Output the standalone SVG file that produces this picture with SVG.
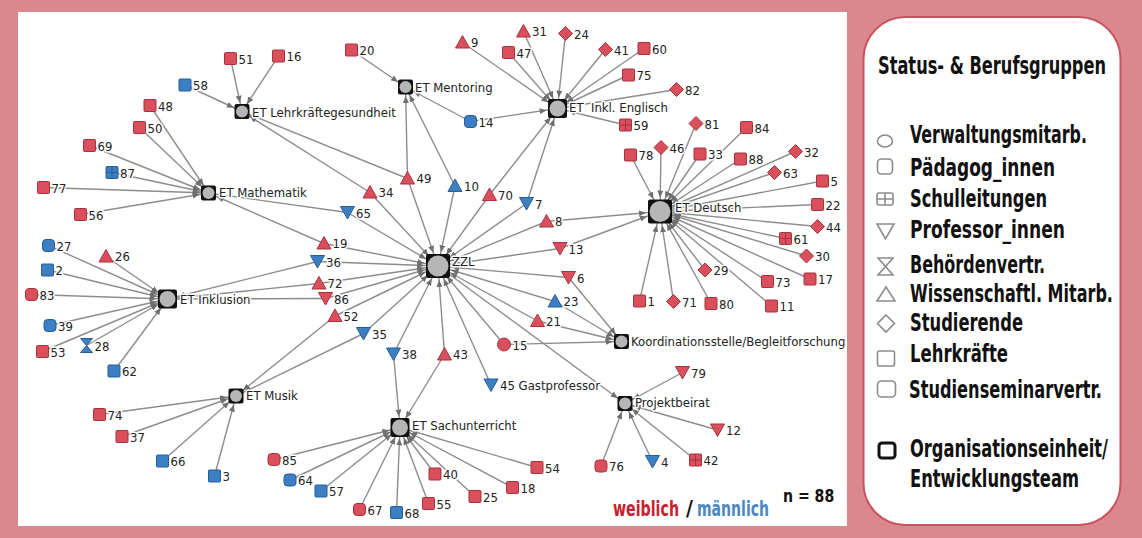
<svg xmlns="http://www.w3.org/2000/svg" xmlns:xlink="http://www.w3.org/1999/xlink" width="1142" height="538" viewBox="0 0 1142 538">
<style>
.lb{font-family:"DejaVu Sans Condensed","DejaVu Sans",sans-serif;font-size:13px;fill:#222;paint-order:stroke;stroke:#fff;stroke-width:3px;stroke-linejoin:round}
.r{fill:#d94f5c;stroke:#a8313f;stroke-width:1}
.b{fill:#3d7fc3;stroke:#285e96;stroke-width:1}
.hub{fill:#111}
.hubc{fill:#b6b6b6}
.cn line{stroke:#8d8d8d;stroke-width:1.4}
.lg{font-family:"Liberation Sans Narrow","DejaVu Sans Condensed",sans-serif;font-weight:bold;font-size:24px;fill:#111}
.li{fill:none;stroke:#8c8c8c;stroke-width:1.6}
</style>
<defs>
<marker id="m24" viewBox="0 0 21 6" refX="21" refY="3" markerWidth="21" markerHeight="6" markerUnits="userSpaceOnUse" orient="auto"><path d="M0,0 L7,3 L0,6 Z" fill="#6f6f6f"/></marker>
<marker id="m19" viewBox="0 0 18 6" refX="18" refY="3" markerWidth="18" markerHeight="6" markerUnits="userSpaceOnUse" orient="auto"><path d="M0,0 L7,3 L0,6 Z" fill="#6f6f6f"/></marker>
<marker id="m15" viewBox="0 0 16 6" refX="16" refY="3" markerWidth="16" markerHeight="6" markerUnits="userSpaceOnUse" orient="auto"><path d="M0,0 L7,3 L0,6 Z" fill="#6f6f6f"/></marker>
<rect id="sq" x="-6" y="-6" width="12" height="12" rx="1"/>
<rect id="rsq" x="-6" y="-6" width="12" height="12" rx="3.5"/>
<path id="up" d="M0,-7 L7,5.5 L-7,5.5 Z"/>
<path id="dn" d="M-7,-6 L7,-6 L0,6.5 Z"/>
<path id="dia" d="M0,-7 L7,0 L0,7 L-7,0 Z"/>
<circle id="ci" r="6.5"/>
<g id="grid"><rect x="-6" y="-6" width="12" height="12" rx="1"/><path d="M-6,0 H6 M0,-6 V6" fill="none"/></g>
<path id="hg" d="M-6,-7 L6,-7 L-6,7 L6,7 Z"/>
</defs>
<rect x="0" y="0" width="1142" height="538" fill="#da888e"/>
<rect x="18" y="12" width="829" height="514" fill="#fff"/>
<rect x="863.5" y="17" width="257" height="508" rx="42" fill="#fff" stroke="#c9525e" stroke-width="2"/>

<g id="connectors" class="cn">
<line x1="230.5" y1="58.5" x2="242" y2="111.5" marker-end="url(#m15)"/>
<line x1="278.5" y1="56" x2="242" y2="111.5" marker-end="url(#m15)"/>
<line x1="185" y1="85" x2="242" y2="111.5" marker-end="url(#m15)"/>
<line x1="370" y1="192.5" x2="242" y2="111.5" marker-end="url(#m15)"/>
<line x1="407.5" y1="178.5" x2="242" y2="111.5" marker-end="url(#m15)"/>
<line x1="150" y1="105.5" x2="208.5" y2="193" marker-end="url(#m15)"/>
<line x1="139.5" y1="127.5" x2="208.5" y2="193" marker-end="url(#m15)"/>
<line x1="89.5" y1="145.5" x2="208.5" y2="193" marker-end="url(#m15)"/>
<line x1="112" y1="172.5" x2="208.5" y2="193" marker-end="url(#m15)"/>
<line x1="43.5" y1="187.5" x2="208.5" y2="193" marker-end="url(#m15)"/>
<line x1="80.5" y1="214.5" x2="208.5" y2="193" marker-end="url(#m15)"/>
<line x1="347.5" y1="212.5" x2="208.5" y2="193" marker-end="url(#m15)"/>
<line x1="324" y1="243.5" x2="208.5" y2="193" marker-end="url(#m15)"/>
<line x1="351.5" y1="50" x2="405.5" y2="87" marker-end="url(#m15)"/>
<line x1="407.5" y1="178.5" x2="405.5" y2="87" marker-end="url(#m15)"/>
<line x1="455" y1="186" x2="405.5" y2="87" marker-end="url(#m15)"/>
<line x1="470.5" y1="121.5" x2="405.5" y2="87" marker-end="url(#m15)"/>
<line x1="462.5" y1="42.5" x2="557.5" y2="108.5" marker-end="url(#m19)"/>
<line x1="523.5" y1="31.5" x2="557.5" y2="108.5" marker-end="url(#m19)"/>
<line x1="508.5" y1="52.5" x2="557.5" y2="108.5" marker-end="url(#m19)"/>
<line x1="565.5" y1="33.5" x2="557.5" y2="108.5" marker-end="url(#m19)"/>
<line x1="605.5" y1="49.5" x2="557.5" y2="108.5" marker-end="url(#m19)"/>
<line x1="644" y1="48.5" x2="557.5" y2="108.5" marker-end="url(#m19)"/>
<line x1="628.5" y1="75" x2="557.5" y2="108.5" marker-end="url(#m19)"/>
<line x1="676.5" y1="89.5" x2="557.5" y2="108.5" marker-end="url(#m19)"/>
<line x1="625.5" y1="125" x2="557.5" y2="108.5" marker-end="url(#m19)"/>
<line x1="470.5" y1="121.5" x2="557.5" y2="108.5" marker-end="url(#m19)"/>
<line x1="489.5" y1="195" x2="557.5" y2="108.5" marker-end="url(#m19)"/>
<line x1="526.5" y1="203.5" x2="557.5" y2="108.5" marker-end="url(#m19)"/>
<line x1="630.5" y1="155" x2="660" y2="211.5" marker-end="url(#m24)"/>
<line x1="661" y1="147.5" x2="660" y2="211.5" marker-end="url(#m24)"/>
<line x1="696" y1="123.5" x2="660" y2="211.5" marker-end="url(#m24)"/>
<line x1="700" y1="154" x2="660" y2="211.5" marker-end="url(#m24)"/>
<line x1="746.5" y1="127.5" x2="660" y2="211.5" marker-end="url(#m24)"/>
<line x1="740.5" y1="159" x2="660" y2="211.5" marker-end="url(#m24)"/>
<line x1="795.5" y1="151.5" x2="660" y2="211.5" marker-end="url(#m24)"/>
<line x1="774.5" y1="172.5" x2="660" y2="211.5" marker-end="url(#m24)"/>
<line x1="822.5" y1="181" x2="660" y2="211.5" marker-end="url(#m24)"/>
<line x1="817.5" y1="204.5" x2="660" y2="211.5" marker-end="url(#m24)"/>
<line x1="817.5" y1="226.5" x2="660" y2="211.5" marker-end="url(#m24)"/>
<line x1="785.5" y1="238.5" x2="660" y2="211.5" marker-end="url(#m24)"/>
<line x1="806.5" y1="256" x2="660" y2="211.5" marker-end="url(#m24)"/>
<line x1="810" y1="279" x2="660" y2="211.5" marker-end="url(#m24)"/>
<line x1="767.5" y1="281.5" x2="660" y2="211.5" marker-end="url(#m24)"/>
<line x1="771.5" y1="306" x2="660" y2="211.5" marker-end="url(#m24)"/>
<line x1="705" y1="270" x2="660" y2="211.5" marker-end="url(#m24)"/>
<line x1="711" y1="303.5" x2="660" y2="211.5" marker-end="url(#m24)"/>
<line x1="673.5" y1="301.5" x2="660" y2="211.5" marker-end="url(#m24)"/>
<line x1="639.5" y1="301" x2="660" y2="211.5" marker-end="url(#m24)"/>
<line x1="546.5" y1="221.5" x2="660" y2="211.5" marker-end="url(#m24)"/>
<line x1="560" y1="248.5" x2="660" y2="211.5" marker-end="url(#m24)"/>
<line x1="48.5" y1="245.5" x2="167.5" y2="299" marker-end="url(#m19)"/>
<line x1="106" y1="256.5" x2="167.5" y2="299" marker-end="url(#m19)"/>
<line x1="47.5" y1="270" x2="167.5" y2="299" marker-end="url(#m19)"/>
<line x1="31.5" y1="294.5" x2="167.5" y2="299" marker-end="url(#m19)"/>
<line x1="50" y1="325.5" x2="167.5" y2="299" marker-end="url(#m19)"/>
<line x1="42.5" y1="351.5" x2="167.5" y2="299" marker-end="url(#m19)"/>
<line x1="86.5" y1="345.5" x2="167.5" y2="299" marker-end="url(#m19)"/>
<line x1="114" y1="371" x2="167.5" y2="299" marker-end="url(#m19)"/>
<line x1="317.5" y1="261.5" x2="167.5" y2="299" marker-end="url(#m19)"/>
<line x1="319" y1="283.5" x2="167.5" y2="299" marker-end="url(#m19)"/>
<line x1="325.5" y1="298.5" x2="167.5" y2="299" marker-end="url(#m19)"/>
<line x1="99.5" y1="414.5" x2="236" y2="396" marker-end="url(#m15)"/>
<line x1="122" y1="436.5" x2="236" y2="396" marker-end="url(#m15)"/>
<line x1="162.5" y1="461" x2="236" y2="396" marker-end="url(#m15)"/>
<line x1="214.5" y1="476" x2="236" y2="396" marker-end="url(#m15)"/>
<line x1="335" y1="316" x2="236" y2="396" marker-end="url(#m15)"/>
<line x1="363.5" y1="333.5" x2="236" y2="396" marker-end="url(#m15)"/>
<line x1="393.5" y1="354" x2="400" y2="427.5" marker-end="url(#m19)"/>
<line x1="444.5" y1="354.5" x2="400" y2="427.5" marker-end="url(#m19)"/>
<line x1="274" y1="459.5" x2="400" y2="427.5" marker-end="url(#m19)"/>
<line x1="290" y1="480" x2="400" y2="427.5" marker-end="url(#m19)"/>
<line x1="321" y1="491" x2="400" y2="427.5" marker-end="url(#m19)"/>
<line x1="359.5" y1="509.5" x2="400" y2="427.5" marker-end="url(#m19)"/>
<line x1="396.5" y1="512.5" x2="400" y2="427.5" marker-end="url(#m19)"/>
<line x1="428.5" y1="503.5" x2="400" y2="427.5" marker-end="url(#m19)"/>
<line x1="435" y1="474" x2="400" y2="427.5" marker-end="url(#m19)"/>
<line x1="475" y1="496.5" x2="400" y2="427.5" marker-end="url(#m19)"/>
<line x1="512.5" y1="487.5" x2="400" y2="427.5" marker-end="url(#m19)"/>
<line x1="537" y1="467.5" x2="400" y2="427.5" marker-end="url(#m19)"/>
<line x1="682.5" y1="372.5" x2="625" y2="403.5" marker-end="url(#m15)"/>
<line x1="717.5" y1="430" x2="625" y2="403.5" marker-end="url(#m15)"/>
<line x1="601" y1="466" x2="625" y2="403.5" marker-end="url(#m15)"/>
<line x1="652.5" y1="461.5" x2="625" y2="403.5" marker-end="url(#m15)"/>
<line x1="695.5" y1="460" x2="625" y2="403.5" marker-end="url(#m15)"/>
<line x1="438" y1="266" x2="625" y2="403.5" marker-end="url(#m15)"/>
<line x1="568.5" y1="277.5" x2="621.5" y2="341.5" marker-end="url(#m15)"/>
<line x1="555" y1="301.5" x2="621.5" y2="341.5" marker-end="url(#m15)"/>
<line x1="537.5" y1="321" x2="621.5" y2="341.5" marker-end="url(#m15)"/>
<line x1="504" y1="344.5" x2="621.5" y2="341.5" marker-end="url(#m15)"/>
<line x1="370" y1="192.5" x2="438" y2="266" marker-end="url(#m24)"/>
<line x1="407.5" y1="178.5" x2="438" y2="266" marker-end="url(#m24)"/>
<line x1="455" y1="186" x2="438" y2="266" marker-end="url(#m24)"/>
<line x1="489.5" y1="195" x2="438" y2="266" marker-end="url(#m24)"/>
<line x1="526.5" y1="203.5" x2="438" y2="266" marker-end="url(#m24)"/>
<line x1="546.5" y1="221.5" x2="438" y2="266" marker-end="url(#m24)"/>
<line x1="560" y1="248.5" x2="438" y2="266" marker-end="url(#m24)"/>
<line x1="347.5" y1="212.5" x2="438" y2="266" marker-end="url(#m24)"/>
<line x1="324" y1="243.5" x2="438" y2="266" marker-end="url(#m24)"/>
<line x1="317.5" y1="261.5" x2="438" y2="266" marker-end="url(#m24)"/>
<line x1="319" y1="283.5" x2="438" y2="266" marker-end="url(#m24)"/>
<line x1="325.5" y1="298.5" x2="438" y2="266" marker-end="url(#m24)"/>
<line x1="335" y1="316" x2="438" y2="266" marker-end="url(#m24)"/>
<line x1="363.5" y1="333.5" x2="438" y2="266" marker-end="url(#m24)"/>
<line x1="393.5" y1="354" x2="438" y2="266" marker-end="url(#m24)"/>
<line x1="444.5" y1="354.5" x2="438" y2="266" marker-end="url(#m24)"/>
<line x1="491" y1="385" x2="438" y2="266" marker-end="url(#m24)"/>
<line x1="568.5" y1="277.5" x2="438" y2="266" marker-end="url(#m24)"/>
<line x1="555" y1="301.5" x2="438" y2="266" marker-end="url(#m24)"/>
<line x1="537.5" y1="321" x2="438" y2="266" marker-end="url(#m24)"/>
<line x1="504" y1="344.5" x2="438" y2="266" marker-end="url(#m24)"/>
</g>

<g id="zzl"><rect x="426" y="254" width="24" height="24" rx="2" class="hub"/><circle cx="438" cy="266" r="10.5" class="hubc"/><text x="452" y="265.5" class="lb">ZZL</text></g>
<g id="et-deutsch"><rect x="648" y="199.5" width="24" height="24" rx="2" class="hub"/><circle cx="660" cy="211.5" r="10.5" class="hubc"/><text x="675" y="212" class="lb">ET Deutsch</text></g>
<g id="et-englisch"><rect x="548" y="99" width="19" height="19" rx="2" class="hub"/><circle cx="557.5" cy="108.5" r="8" class="hubc"/><text x="569" y="111.5" class="lb" style="white-space:pre">ET  Inkl. Englisch</text></g>
<g id="et-mentoring"><rect x="398" y="79.5" width="15" height="15" rx="2" class="hub"/><circle cx="405.5" cy="87" r="6" class="hubc"/><text x="415" y="91.5" class="lb">ET Mentoring</text></g>
<g id="et-lehrkraeftegesundheit"><rect x="234.5" y="104" width="15" height="15" rx="2" class="hub"/><circle cx="242" cy="111.5" r="6" class="hubc"/><text x="252" y="116.5" class="lb">ET Lehrkräftegesundheit</text></g>
<g id="et-mathematik"><rect x="201" y="185.5" width="15" height="15" rx="2" class="hub"/><circle cx="208.5" cy="193" r="6" class="hubc"/><text x="219" y="197" class="lb">ET Mathematik</text></g>
<g id="et-inklusion"><rect x="158" y="289.5" width="19" height="19" rx="2" class="hub"/><circle cx="167.5" cy="299" r="8" class="hubc"/><text x="180" y="303.5" class="lb">ET Inklusion</text></g>
<g id="et-musik"><rect x="228.5" y="388.5" width="15" height="15" rx="2" class="hub"/><circle cx="236" cy="396" r="6" class="hubc"/><text x="246" y="400" class="lb">ET Musik</text></g>
<g id="et-sachunterricht"><rect x="390.5" y="418" width="19" height="19" rx="2" class="hub"/><circle cx="400" cy="427.5" r="8" class="hubc"/><text x="412" y="429.5" class="lb">ET Sachunterricht</text></g>
<g id="projektbeirat"><rect x="617.5" y="396" width="15" height="15" rx="2" class="hub"/><circle cx="625" cy="403.5" r="6" class="hubc"/><text x="635" y="407" class="lb">Projektbeirat</text></g>
<g id="koordinationsstelle"><rect x="614" y="334" width="15" height="15" rx="2" class="hub"/><circle cx="621.5" cy="341.5" r="6" class="hubc"/><text x="631" y="345.5" class="lb">Koordinationsstelle/Begleitforschung</text></g>

<g id="n51"><use href="#sq" x="230.5" y="58.5" class="r"/><text x="238.5" y="63.5" class="lb">51</text></g>
<g id="n16"><use href="#sq" x="278.5" y="56" class="r"/><text x="286.5" y="61" class="lb">16</text></g>
<g id="n58"><use href="#sq" x="185" y="85" class="b"/><text x="193" y="90" class="lb">58</text></g>
<g id="n48"><use href="#sq" x="150" y="105.5" class="r"/><text x="158" y="110.5" class="lb">48</text></g>
<g id="n50"><use href="#sq" x="139.5" y="127.5" class="r"/><text x="147.5" y="132.5" class="lb">50</text></g>
<g id="n69"><use href="#sq" x="89.5" y="145.5" class="r"/><text x="97.5" y="150.5" class="lb">69</text></g>
<g id="n87"><use href="#grid" x="112" y="172.5" class="b"/><text x="120" y="177.5" class="lb">87</text></g>
<g id="n77"><use href="#sq" x="43.5" y="187.5" class="r"/><text x="51.5" y="192.5" class="lb">77</text></g>
<g id="n56"><use href="#sq" x="80.5" y="214.5" class="r"/><text x="88.5" y="219.5" class="lb">56</text></g>
<g id="n27"><use href="#rsq" x="48.5" y="245.5" class="b"/><text x="56.5" y="250.5" class="lb">27</text></g>
<g id="n26"><use href="#up" x="106" y="256.5" class="r"/><text x="115" y="261" class="lb">26</text></g>
<g id="n2"><use href="#sq" x="47.5" y="270" class="b"/><text x="55.5" y="275" class="lb">2</text></g>
<g id="n83"><use href="#rsq" x="31.5" y="294.5" class="r"/><text x="39.5" y="299.5" class="lb">83</text></g>
<g id="n39"><use href="#rsq" x="50" y="325.5" class="b"/><text x="58" y="330.5" class="lb">39</text></g>
<g id="n53"><use href="#sq" x="42.5" y="351.5" class="r"/><text x="50.5" y="356.5" class="lb">53</text></g>
<g id="n28"><use href="#hg" x="86.5" y="345.5" class="b"/><text x="94.5" y="350.5" class="lb">28</text></g>
<g id="n62"><use href="#sq" x="114" y="371" class="b"/><text x="122" y="376" class="lb">62</text></g>
<g id="n74"><use href="#sq" x="99.5" y="414.5" class="r"/><text x="107.5" y="419.5" class="lb">74</text></g>
<g id="n37"><use href="#sq" x="122" y="436.5" class="r"/><text x="130" y="441.5" class="lb">37</text></g>
<g id="n66"><use href="#sq" x="162.5" y="461" class="b"/><text x="170.5" y="466" class="lb">66</text></g>
<g id="n3"><use href="#sq" x="214.5" y="476" class="b"/><text x="222.5" y="481" class="lb">3</text></g>
<g id="n85"><use href="#rsq" x="274" y="459.5" class="r"/><text x="282" y="464.5" class="lb">85</text></g>
<g id="n64"><use href="#rsq" x="290" y="480" class="b"/><text x="298" y="485" class="lb">64</text></g>
<g id="n57"><use href="#sq" x="321" y="491" class="b"/><text x="329" y="496" class="lb">57</text></g>
<g id="n67"><use href="#rsq" x="359.5" y="509.5" class="r"/><text x="367.5" y="514.5" class="lb">67</text></g>
<g id="n68"><use href="#sq" x="396.5" y="512.5" class="b"/><text x="404.5" y="517.5" class="lb">68</text></g>
<g id="n55"><use href="#sq" x="428.5" y="503.5" class="r"/><text x="436.5" y="508.5" class="lb">55</text></g>
<g id="n40"><use href="#sq" x="435" y="474" class="r"/><text x="443" y="479" class="lb">40</text></g>
<g id="n25"><use href="#sq" x="475" y="496.5" class="r"/><text x="483" y="501.5" class="lb">25</text></g>
<g id="n18"><use href="#sq" x="512.5" y="487.5" class="r"/><text x="520.5" y="492.5" class="lb">18</text></g>
<g id="n54"><use href="#sq" x="537" y="467.5" class="r"/><text x="545" y="472.5" class="lb">54</text></g>
<g id="n38"><use href="#dn" x="393.5" y="354" class="b"/><text x="402" y="359" class="lb">38</text></g>
<g id="n43"><use href="#up" x="444.5" y="354.5" class="r"/><text x="453" y="359" class="lb">43</text></g>
<g id="n45"><use href="#dn" x="491" y="385" class="b"/><text x="500" y="390" class="lb">45 Gastprofessor</text></g>
<g id="n35"><use href="#dn" x="363.5" y="333.5" class="b"/><text x="372" y="338.5" class="lb">35</text></g>
<g id="n52"><use href="#up" x="335" y="316" class="r"/><text x="343.5" y="320.5" class="lb">52</text></g>
<g id="n86"><use href="#dn" x="325.5" y="298.5" class="r"/><text x="334" y="303.5" class="lb">86</text></g>
<g id="n72"><use href="#up" x="319" y="283.5" class="r"/><text x="327.5" y="288" class="lb">72</text></g>
<g id="n36"><use href="#dn" x="317.5" y="261.5" class="b"/><text x="326" y="266.5" class="lb">36</text></g>
<g id="n19"><use href="#up" x="324" y="243.5" class="r"/><text x="332.5" y="248" class="lb">19</text></g>
<g id="n65"><use href="#dn" x="347.5" y="212.5" class="b"/><text x="356" y="217.5" class="lb">65</text></g>
<g id="n34"><use href="#up" x="370" y="192.5" class="r"/><text x="378.5" y="197" class="lb">34</text></g>
<g id="n49"><use href="#up" x="407.5" y="178.5" class="r"/><text x="416.5" y="183" class="lb">49</text></g>
<g id="n10"><use href="#up" x="455" y="186" class="b"/><text x="464" y="190.5" class="lb">10</text></g>
<g id="n70"><use href="#up" x="489.5" y="195" class="r"/><text x="498" y="199.5" class="lb">70</text></g>
<g id="n7"><use href="#dn" x="526.5" y="203.5" class="b"/><text x="535" y="208.5" class="lb">7</text></g>
<g id="n8"><use href="#up" x="546.5" y="221.5" class="r"/><text x="555" y="226" class="lb">8</text></g>
<g id="n13"><use href="#dn" x="560" y="248.5" class="r"/><text x="568.5" y="253.5" class="lb">13</text></g>
<g id="n6"><use href="#dn" x="568.5" y="277.5" class="r"/><text x="577" y="282.5" class="lb">6</text></g>
<g id="n23"><use href="#up" x="555" y="301.5" class="b"/><text x="563.5" y="306" class="lb">23</text></g>
<g id="n21"><use href="#up" x="537.5" y="321" class="r"/><text x="546" y="325.5" class="lb">21</text></g>
<g id="n15"><use href="#ci" x="504" y="344.5" class="r"/><text x="512.5" y="349.5" class="lb">15</text></g>
<g id="n20"><use href="#sq" x="351.5" y="50" class="r"/><text x="359.5" y="55" class="lb">20</text></g>
<g id="n14"><use href="#rsq" x="470.5" y="121.5" class="b"/><text x="478.5" y="126.5" class="lb">14</text></g>
<g id="n9"><use href="#up" x="462.5" y="42.5" class="r"/><text x="471" y="47" class="lb">9</text></g>
<g id="n31"><use href="#up" x="523.5" y="31.5" class="r"/><text x="532" y="36" class="lb">31</text></g>
<g id="n47"><use href="#sq" x="508.5" y="52.5" class="r"/><text x="516.5" y="57.5" class="lb">47</text></g>
<g id="n24"><use href="#dia" x="565.5" y="33.5" class="r"/><text x="574" y="38.5" class="lb">24</text></g>
<g id="n41"><use href="#dia" x="605.5" y="49.5" class="r"/><text x="614" y="54.5" class="lb">41</text></g>
<g id="n60"><use href="#sq" x="644" y="48.5" class="r"/><text x="652" y="53.5" class="lb">60</text></g>
<g id="n75"><use href="#sq" x="628.5" y="75" class="r"/><text x="636.5" y="80" class="lb">75</text></g>
<g id="n82"><use href="#dia" x="676.5" y="89.5" class="r"/><text x="685" y="94.5" class="lb">82</text></g>
<g id="n59"><use href="#grid" x="625.5" y="125" class="r"/><text x="633.5" y="130" class="lb">59</text></g>
<g id="n81"><use href="#dia" x="696" y="123.5" class="r"/><text x="704.5" y="128.5" class="lb">81</text></g>
<g id="n84"><use href="#sq" x="746.5" y="127.5" class="r"/><text x="754.5" y="132.5" class="lb">84</text></g>
<g id="n78"><use href="#sq" x="630.5" y="155" class="r"/><text x="638.5" y="160" class="lb">78</text></g>
<g id="n46"><use href="#dia" x="661" y="147.5" class="r"/><text x="669.5" y="152.5" class="lb">46</text></g>
<g id="n33"><use href="#sq" x="700" y="154" class="r"/><text x="708" y="159" class="lb">33</text></g>
<g id="n88"><use href="#sq" x="740.5" y="159" class="r"/><text x="748.5" y="164" class="lb">88</text></g>
<g id="n32"><use href="#dia" x="795.5" y="151.5" class="r"/><text x="804" y="156.5" class="lb">32</text></g>
<g id="n63"><use href="#dia" x="774.5" y="172.5" class="r"/><text x="783" y="177.5" class="lb">63</text></g>
<g id="n5"><use href="#sq" x="822.5" y="181" class="r"/><text x="830.5" y="186" class="lb">5</text></g>
<g id="n22"><use href="#sq" x="817.5" y="204.5" class="r"/><text x="825.5" y="209.5" class="lb">22</text></g>
<g id="n44"><use href="#dia" x="817.5" y="226.5" class="r"/><text x="826" y="231.5" class="lb">44</text></g>
<g id="n61"><use href="#grid" x="785.5" y="238.5" class="r"/><text x="793.5" y="243.5" class="lb">61</text></g>
<g id="n30"><use href="#dia" x="806.5" y="256" class="r"/><text x="815" y="261" class="lb">30</text></g>
<g id="n29"><use href="#dia" x="705" y="270" class="r"/><text x="713.5" y="275" class="lb">29</text></g>
<g id="n17"><use href="#sq" x="810" y="279" class="r"/><text x="818" y="284" class="lb">17</text></g>
<g id="n73"><use href="#sq" x="767.5" y="281.5" class="r"/><text x="775.5" y="286.5" class="lb">73</text></g>
<g id="n1"><use href="#sq" x="639.5" y="301" class="r"/><text x="647.5" y="306" class="lb">1</text></g>
<g id="n71"><use href="#dia" x="673.5" y="301.5" class="r"/><text x="682" y="306.5" class="lb">71</text></g>
<g id="n80"><use href="#sq" x="711" y="303.5" class="r"/><text x="719" y="308.5" class="lb">80</text></g>
<g id="n11"><use href="#sq" x="771.5" y="306" class="r"/><text x="779.5" y="311" class="lb">11</text></g>
<g id="n79"><use href="#dn" x="682.5" y="372.5" class="r"/><text x="691" y="377.5" class="lb">79</text></g>
<g id="n12"><use href="#dn" x="717.5" y="430" class="r"/><text x="726" y="435" class="lb">12</text></g>
<g id="n76"><use href="#rsq" x="601" y="466" class="r"/><text x="609" y="471" class="lb">76</text></g>
<g id="n4"><use href="#dn" x="652.5" y="461.5" class="b"/><text x="661" y="466.5" class="lb">4</text></g>
<g id="n42"><use href="#grid" x="695.5" y="460" class="r"/><text x="703.5" y="465" class="lb">42</text></g>

<g id="gender-key" font-family="'Liberation Sans Narrow','DejaVu Sans Condensed',sans-serif" font-weight="bold" font-size="21">
<text transform="translate(613,516) scale(0.8,1)" fill="#c8202f" textLength="82.5" lengthAdjust="spacingAndGlyphs">weiblich</text>
<text x="686" y="516" fill="#111">/</text>
<text transform="translate(697,516) scale(0.8,1)" fill="#4a88c2" textLength="90" lengthAdjust="spacingAndGlyphs">männlich</text>
</g>
<text id="count" transform="translate(783,502) scale(0.8,1)" font-family="'Liberation Sans Narrow','DejaVu Sans Condensed',sans-serif" font-weight="bold" font-size="18" fill="#111" textLength="64" lengthAdjust="spacingAndGlyphs">n = 88</text>

<g id="legend">
<text transform="translate(878,74) scale(0.72,1)" class="lg" font-size="21" textLength="316.7" lengthAdjust="spacingAndGlyphs">Status- &amp; Berufsgruppen</text>
<ellipse cx="885" cy="141" rx="7.5" ry="6" class="li"/>
<text transform="translate(910,143) scale(0.72,1)" class="lg" textLength="245.8" lengthAdjust="spacingAndGlyphs">Verwaltungsmitarb.</text>
<rect x="877.5" y="159" width="15" height="15" rx="4" class="li"/>
<text transform="translate(910,176) scale(0.72,1)" class="lg" textLength="201.4" lengthAdjust="spacingAndGlyphs">Pädagog_innen</text>
<rect x="877" y="193" width="16" height="12" rx="2" class="li"/>
<path d="M877,199 H893 M885,193 V205" class="li"/>
<text transform="translate(910,207) scale(0.72,1)" class="lg" textLength="190.3" lengthAdjust="spacingAndGlyphs">Schulleitungen</text>
<path d="M877,224 L894,224 L885.5,239 Z" class="li"/>
<text transform="translate(910,238) scale(0.72,1)" class="lg" textLength="215.3" lengthAdjust="spacingAndGlyphs">Professor_innen</text>
<path d="M878,258 L893,258 L878,275 L893,275 Z" class="li"/>
<text transform="translate(910,273) scale(0.72,1)" class="lg" textLength="187.5" lengthAdjust="spacingAndGlyphs">Behördenvertr.</text>
<path d="M886,287 L895,301 L877,301 Z" class="li"/>
<text transform="translate(910,302) scale(0.72,1)" class="lg" textLength="281.9" lengthAdjust="spacingAndGlyphs">Wissenschaftl. Mitarb.</text>
<path d="M886,315 L894.5,323.5 L886,332 L877.5,323.5 Z" class="li"/>
<text transform="translate(910,331) scale(0.72,1)" class="lg" textLength="156.9" lengthAdjust="spacingAndGlyphs">Studierende</text>
<rect x="877.5" y="351" width="17" height="15" rx="1.5" class="li"/>
<text transform="translate(910,362) scale(0.72,1)" class="lg" textLength="136.1" lengthAdjust="spacingAndGlyphs">Lehrkräfte</text>
<rect x="877.5" y="381" width="18" height="16" rx="4" class="li"/>
<text transform="translate(909,398) scale(0.72,1)" class="lg" textLength="268.1" lengthAdjust="spacingAndGlyphs">Studienseminarvertr.</text>
<rect x="879" y="443" width="16" height="15" rx="3" fill="#fff" stroke="#111" stroke-width="3"/>
<text transform="translate(910,457) scale(0.72,1)" class="lg" textLength="275" lengthAdjust="spacingAndGlyphs">Organisationseinheit/</text>
<text transform="translate(910,487) scale(0.72,1)" class="lg" textLength="234.7" lengthAdjust="spacingAndGlyphs">Entwicklungsteam</text>
</g>
</svg>
